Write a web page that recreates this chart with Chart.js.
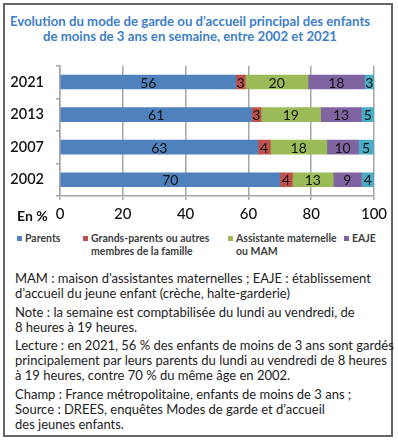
<!DOCTYPE html>
<html>
<head>
<meta charset="utf-8">
<script src="https://cdn.jsdelivr.net/npm/chart.js@4.4.0/dist/chart.umd.min.js"></script>
<style>
  body { margin: 0; background: #fff; }
  #wrap { position: relative; width: 398px; height: 443px; overflow: hidden; }
  #frame { position: absolute; left: 3px; top: 3px; width: 386px; height: 430px; border: 2px solid #666; }
  #title { position: absolute; left: 3px; top: 14px; width: 374px; text-align: center;
           font: bold 13.2px Lato; color: #3d80c6; line-height: 15px; white-space: nowrap; }
  #chartBox { position: absolute; left: 0; top: 45px; width: 398px; height: 181px; }
  .leg { position: absolute; top: 232px; font: bold 10.5px Lato; color: #404040; line-height: 13px; white-space: nowrap; }
  .leg i { position: absolute; left: -8px; top: 4px; width: 5px; height: 5px; }
  #notes { position: absolute; left: 15px; top: 271px; font: 13px Lato; color: #222; white-space: nowrap; }
  #notes p { margin: 0 0 3.5px; line-height: 15px; }
</style>
</head>
<body>
<div id="wrap">
  <div id="frame"></div>
  <div id="title">Evolution du mode de garde ou d’accueil principal des enfants<br>de moins de 3 ans en semaine, entre 2002 et 2021</div>
  <div id="chartBox"><canvas id="chart"></canvas></div>
  <div id="legend"></div>
  <div id="notes">
    <p>MAM : maison d’assistantes maternelles ; EAJE : établissement<br>d’accueil du jeune enfant (crèche, halte-garderie)</p>
    <p>Note : la semaine est comptabilisée du lundi au vendredi, de<br>8 heures à 19 heures.</p>
    <p>Lecture : en 2021, 56 % des enfants de moins de 3 ans sont gardés<br>principalement par leurs parents du lundi au vendredi de 8 heures<br>à 19 heures, contre 70 % du même âge en 2002.</p>
    <p>Champ : France métropolitaine, enfants de moins de 3 ans ;<br>Source : DREES, enquêtes Modes de garde et d’accueil<br>des jeunes enfants.</p>
  </div>
</div>
<script>
const years = ['2021', '2013', '2007', '2002'];
const parents = [56, 61, 63, 70];
const grandsParents = [3, 3, 4, 4];
const assistante = [20, 19, 18, 13];
const eaje = [18, 13, 10, 9];
const autres = [3, 5, 5, 4];
const seriesNames = [['Parents'], ['Grands-parents ou autres', 'membres de la famille'],
  ['Assistante maternelle', 'ou MAM'], ['EAJE'], ['Autres']];
const xTicks = [0, 20, 40, 60, 80, 100];

const colors = ['#4f81bd', '#c0504d', '#9bbb59', '#8064a2', '#4bacc6'];
const legendX = [25, 91, 236, 352];

// html legend, only the first four series are shown in the original
let legend = document.getElementById('legend');
seriesNames.slice(0, 4).forEach((name, i) => {
  let d = document.createElement('div');
  d.className = 'leg';
  d.style.left = legendX[i] + 'px';
  d.innerHTML = '<i style="background:' + colors[i] + '"></i>' + name.join('<br>');
  legend.appendChild(d);
});

const valueLabels = {
  id: 'valueLabels',
  afterDatasetsDraw(chart) {
    const ctx = chart.ctx;
    const right = chart.chartArea.right;
    ctx.save();
    ctx.font = '14px Lato';
    ctx.fillStyle = '#111';
    ctx.textAlign = 'center';
    ctx.textBaseline = 'middle';
    chart.data.datasets.forEach((ds, i) => {
      chart.getDatasetMeta(i).data.forEach((bar, j) => {
        let x = (Math.min(bar.x, right) + bar.base) / 2;
        ctx.fillText(ds.data[j], x, bar.y + 1);
      });
    });
    // "En %" before the x tick labels
    ctx.font = 'bold 14px Lato';
    ctx.textAlign = 'left';
    ctx.fillText('En %', 17, chart.scales.x.top + 20);
    ctx.restore();
  }
};

const series = [parents, grandsParents, assistante, eaje, autres];

const data = {
  labels: years,
  datasets: series.map((s, i) => ({
    label: seriesNames[i].join(' '),
    data: s,
    backgroundColor: colors[i],
    barThickness: 14,
    clip: 0
  }))
};

const config = {
  type: 'bar',
  data: data,
  options: {
    indexAxis: 'y',
    responsive: true,
    maintainAspectRatio: false,
    animation: false,
    layout: { padding: { top: 7, right: 24, left: 0, bottom: 0 } },
    plugins: {
      legend: { display: false },
      tooltip: { enabled: false }
    },
    scales: {
      x: {
        stacked: true,
        min: 0,
        max: 100,
        afterBuildTicks: (scale) => { scale.ticks = xTicks.map(v => ({ value: v })); },
        afterFit: (scale) => { scale.height = 30; },
        ticks: { font: { family: 'Lato', size: 15, weight: 500 }, color: '#111', padding: 5 },
        grid: { color: '#a6a6a6', lineWidth: 1.5, tickLength: 4 },
        border: { color: '#a6a6a6', width: 1.5 }
      },
      y: {
        stacked: true,
        afterFit: (scale) => { scale.width = 60; },
        ticks: { font: { family: 'Lato', size: 14.5, weight: 600 }, color: '#111', padding: 12 },
        grid: { offset: true, drawOnChartArea: false, color: '#a6a6a6', lineWidth: 1.5, tickLength: 4 },
        border: { color: '#a6a6a6', width: 1.5 }
      }
    }
  },
  plugins: [valueLabels]
};

let chart = new Chart(document.getElementById('chart'), config);
</script>
</body>
</html>
